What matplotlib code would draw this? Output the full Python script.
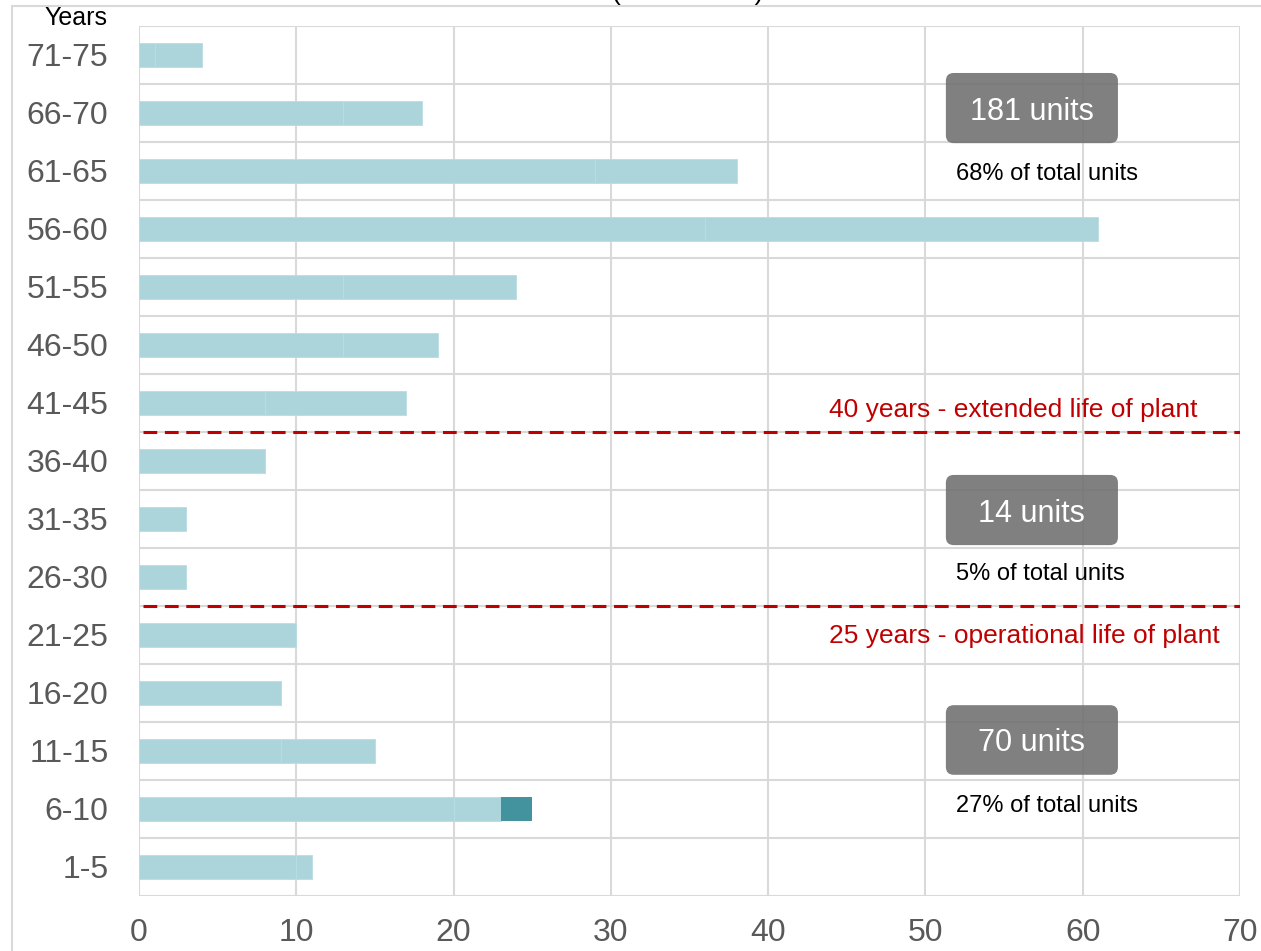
import matplotlib.pyplot as plt
import numpy as np
from matplotlib.patches import FancyBboxPatch, Rectangle

plt.rcParams['font.family'] = ['Liberation Sans', 'DejaVu Sans']

# age groups, bottom to top
ages = ["1-5", "6-10", "11-15", "16-20", "21-25", "26-30", "31-35", "36-40",
        "41-45", "46-50", "51-55", "56-60", "61-65", "66-70", "71-75"]
seg_a = [10, 20, 9, 9, 10, 3, 3, 8, 8, 13, 13, 36, 29, 13, 1]
seg_b = [1, 3, 6, 0, 0, 0, 0, 0, 9, 6, 11, 25, 9, 5, 3]
seg_dark = [0, 2, 0, 0, 0, 0, 0, 0, 0, 0, 0, 0, 0, 0, 0]

unit_labels = ["181 units", "14 units", "70 units"]
share_labels = ["68% of total units", "5% of total units", "27% of total units"]

light = "#abd5db"
dark = "#43939e"
grid_c = "#d9d9d9"
red = "#c00000"

fig = plt.figure(figsize=(12.61, 9.51), dpi=100)
ax = fig.add_axes([139/1261, 55/951, 1101/1261, 870/951])

y = np.arange(len(ages))
a = np.array(seg_a)
b = np.array(seg_b)
d = np.array(seg_dark)

ax.barh(y, a, height=0.4, color=light, edgecolor="#b9dde2", linewidth=0.6, zorder=3)
ax.barh(y, b, left=a, height=0.4, color=light, edgecolor="#b9dde2", linewidth=0.6, zorder=3)
ax.barh(y, d, left=a + b, height=0.4, color=dark, linewidth=0, zorder=3)

ax.set_xlim(0, 70)
ax.set_ylim(-0.5, len(ages) - 0.5)
ax.set_xticks(np.arange(0, 71, 10))
ax.set_yticks(y)
ax.set_yticklabels(ages)
ax.set_yticks(np.arange(-0.5, len(ages), 1), minor=True)
ax.tick_params(axis="y", which="major", length=0, pad=22, labelsize=23, labelcolor="#595959")
ax.tick_params(axis="y", which="minor", length=0)
ax.tick_params(axis="x", length=0, pad=16, labelsize=23, labelcolor="#595959")
ax.grid(axis="x", color=grid_c, linewidth=1.5, zorder=0)
ax.grid(axis="y", which="minor", color=grid_c, linewidth=1.5, zorder=0)
for s in ax.spines.values():
    s.set_visible(False)

# life of plant lines
ax.plot([0.25, 70], [7.5, 7.5], color=red, linewidth=2.2, linestyle=(0, (4.5, 2.5)), zorder=4)
ax.plot([0.25, 70], [4.5, 4.5], color=red, linewidth=2.2, linestyle=(0, (4.5, 2.5)), zorder=4)
ax.text(43.9, 7.93, "40 years - extended life of plant", color=red, fontsize=19,
        va="center_baseline", ha="left")
ax.text(43.9, 4.03, "25 years - operational life of plant", color=red, fontsize=19,
        va="center_baseline", ha="left")

# unit boxes
box_y = [(12.48, 13.69), (5.55, 6.76), (1.59, 2.79)]
share_y = [12.0, 5.09, 1.1]
for (y0, y1), lab, sy, sl in zip(box_y, unit_labels, share_y, share_labels):
    p = FancyBboxPatch((51.3, y0), 10.94, y1 - y0,
                       boxstyle="round,pad=0,rounding_size=0.5", mutation_aspect=0.271,
                       facecolor="#727272", edgecolor="none", alpha=0.9, zorder=5)
    ax.add_patch(p)
    ax.text(51.3 + 10.94/2, (y0 + y1)/2, lab, color="white", fontsize=22,
            ha="center", va="center_baseline", zorder=6)
    ax.text(51.94, sy, sl, color="black", fontsize=17, ha="left", va="center_baseline", zorder=6)

fig.text(76/1261, 1 - 18/951, "Years", fontsize=18, ha="center", va="center")
fig.text(688/1261, 1.0, "(No. of units)", fontsize=19, ha="center", va="baseline")

# chart area border
fig.patches.append(Rectangle((12/1261, -0.1), 1.2, 1 - 6/951 + 0.1, transform=fig.transFigure,
                             fill=False, edgecolor=grid_c, linewidth=1.5))

plt.savefig("out.png", dpi=100)
